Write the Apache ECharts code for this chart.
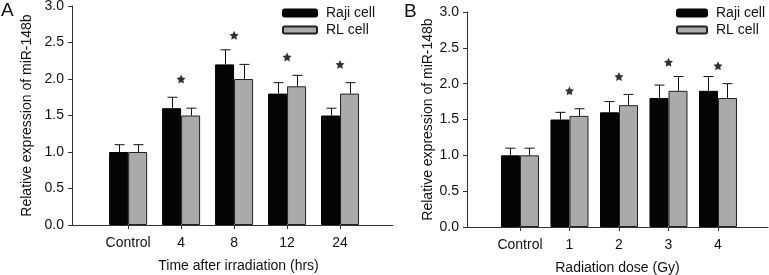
<!DOCTYPE html>
<html>
<head>
<meta charset="utf-8">
<script src="https://cdn.jsdelivr.net/npm/echarts@6/dist/echarts.min.js"></script>
<style>
  html, body { margin: 0; padding: 0; background: #fff; }
  #main { width: 769px; height: 275px; }
</style>
</head>
<body>
<div id="main"></div>
<script>
// panel A: time after irradiation
var timeLabels = ['Control', '4', '8', '12', '24'];
var timeRaji = [1.0, 1.6, 2.2, 1.8, 1.5];
var timeRajiErr = [0.1, 0.15, 0.2, 0.15, 0.1];
var timeRL = [1.0, 1.5, 2.0, 1.9, 1.8];
var timeRLErr = [0.1, 0.1, 0.2, 0.15, 0.15];
var timeStar = [null, 2.0, 2.6, 2.3, 2.2];

// panel B: radiation dose
var doseLabels = ['Control', '1', '2', '3', '4'];
var doseRaji = [1.0, 1.5, 1.6, 1.8, 1.9];
var doseRajiErr = [0.1, 0.1, 0.15, 0.18, 0.2];
var doseRL = [1.0, 1.55, 1.7, 1.9, 1.8];
var doseRLErr = [0.1, 0.1, 0.15, 0.2, 0.2];
var doseStar = [null, 1.9, 2.1, 2.3, 2.25];

var yTicks = [0, 0.5, 1.0, 1.5, 2.0, 2.5, 3.0];

(function () {
    var chart = echarts.init(document.getElementById('main'));
    var FONT = 'Liberation Sans';
    var AXIS = '#333';
    var BAR_W = 19;
    var FS = 14;

    // group centres on the value x axis (first group sits ~1 unit in)
    function positions(labels, first) {
        return labels.map(function (l, i) { return first + i; });
    }
    var posA = positions(timeLabels, 1.06);
    var posB = positions(doseLabels, 1.07);

    function xAxis(idx, pos, labels, max, name, pad) {
        return {
            type: 'value', gridIndex: idx, min: 0, max: max,
            splitLine: { show: false },
            axisLine: { lineStyle: { color: AXIS, width: 1 } },
            axisTick: { show: true, customValues: pos, length: 4, lineStyle: { color: AXIS } },
            axisLabel: {
                customValues: pos, margin: 11, fontSize: FS, fontFamily: FONT, color: '#111',
                formatter: function (v) {
                    for (var i = 0; i < pos.length; i++) {
                        if (Math.abs(pos[i] - v) < 0.01) return labels[i];
                    }
                    return '';
                }
            },
            name: name, nameLocation: 'middle', nameGap: 34,
            nameTextStyle: { fontSize: FS, fontFamily: FONT, color: '#111', padding: pad }
        };
    }

    function yAxis(idx, gap) {
        return {
            type: 'value', gridIndex: idx, min: 0, max: 3, interval: 0.5,
            splitLine: { show: false },
            axisLine: { show: true, lineStyle: { color: AXIS, width: 1 } },
            axisTick: { show: true, length: 4, lineStyle: { color: AXIS } },
            axisLabel: {
                margin: 8, fontSize: FS, fontFamily: FONT, color: '#111',
                customValues: yTicks,
                formatter: function (v) { return v.toFixed(1); }
            },
            name: 'Relative expression of miR-148b', nameLocation: 'middle', nameGap: gap,
            nameTextStyle: { fontSize: FS, fontFamily: FONT, color: '#111' }
        };
    }

    function barSeries(idx, name, pos, vals, color, border) {
        return {
            type: 'bar', name: name, xAxisIndex: idx, yAxisIndex: idx,
            barWidth: BAR_W, barGap: '0%',
            itemStyle: { color: color, borderColor: border, borderWidth: 1 },
            data: pos.map(function (p, i) { return [p, vals[i]]; }),
            silent: true
        };
    }

    function errSeries(idx, pos, vals, errs, dx) {
        return {
            type: 'custom', xAxisIndex: idx, yAxisIndex: idx, z: 5, silent: true,
            data: pos.map(function (p, i) { return [p, vals[i], errs[i]]; }),
            renderItem: function (params, api) {
                var base = api.coord([api.value(0), api.value(1)]);
                var top = api.coord([api.value(0), api.value(1) + api.value(2)]);
                var cx = Math.round(base[0] + dx) + 0.5;
                var st = { stroke: '#111', lineWidth: 1 };
                return {
                    type: 'group',
                    children: [
                        { type: 'line', shape: { x1: cx, y1: base[1], x2: cx, y2: top[1] }, style: st },
                        { type: 'line', shape: { x1: cx - 5, y1: top[1], x2: cx + 5, y2: top[1] }, style: st }
                    ]
                };
            }
        };
    }

    function starSeries(idx, pos, stars) {
        var d = [];
        for (var i = 0; i < stars.length; i++) {
            if (stars[i] != null) d.push([pos[i], stars[i]]);
        }
        return {
            type: 'scatter', xAxisIndex: idx, yAxisIndex: idx, silent: true,
            symbol: 'path://M0,-10L2.9,-4L9.5,-3.1L4.8,1.5L5.9,8.1L0,5L-5.9,8.1L-4.8,1.5L-9.5,-3.1L-2.9,-4Z',
            symbolSize: 9,
            itemStyle: { color: '#000' },
            data: d
        };
    }

    function legend(left, w) {
        return {
            left: left, top: 1, orient: 'vertical', itemGap: 3,
            itemWidth: w, itemHeight: 7, selectedMode: false,
            textStyle: { fontSize: FS, fontFamily: FONT, color: '#111', padding: [0, 0, 0, 4] },
            data: ['Raji cell', 'RL cell']
        };
    }

    var option = {
        animation: false,
        backgroundColor: '#fff',
        textStyle: { fontFamily: FONT },
        graphic: [
            { type: 'text', left: 1, top: 1, style: { text: 'A', fontSize: 19, fontFamily: FONT, fill: '#111' } },
            { type: 'text', left: 404, top: 2, style: { text: 'B', fontSize: 19, fontFamily: FONT, fill: '#111' } }
        ],
        legend: [legend(277, 34), legend(671, 30)],
        grid: [
            { left: 72, top: 6, right: 769 - 393, bottom: 275 - 225, outerBoundsMode: 'none' },
            { left: 467, top: 12, right: 1, bottom: 275 - 227, outerBoundsMode: 'none' }
        ],
        xAxis: [
            xAxis(0, posA, timeLabels, 6.06, 'Time after irradiation (hrs)', [0, 0, 0, 12]),
            xAxis(1, posB, doseLabels, 6.08, 'Radiation dose (Gy)', [0, 0, 0, 0])
        ],
        yAxis: [yAxis(0, 38), yAxis(1, 32)],
        series: [
            barSeries(0, 'Raji cell', posA, timeRaji, '#050505', '#000'),
            barSeries(0, 'RL cell', posA, timeRL, '#aaaaaa', '#222'),
            errSeries(0, posA, timeRaji, timeRajiErr, -BAR_W / 2),
            errSeries(0, posA, timeRL, timeRLErr, BAR_W / 2),
            starSeries(0, posA, timeStar),
            barSeries(1, 'Raji cell', posB, doseRaji, '#050505', '#000'),
            barSeries(1, 'RL cell', posB, doseRL, '#aaaaaa', '#222'),
            errSeries(1, posB, doseRaji, doseRajiErr, -BAR_W / 2),
            errSeries(1, posB, doseRL, doseRLErr, BAR_W / 2),
            starSeries(1, posB, doseStar)
        ]
    };
    chart.setOption(option, true);
})();
</script>
</body>
</html>
